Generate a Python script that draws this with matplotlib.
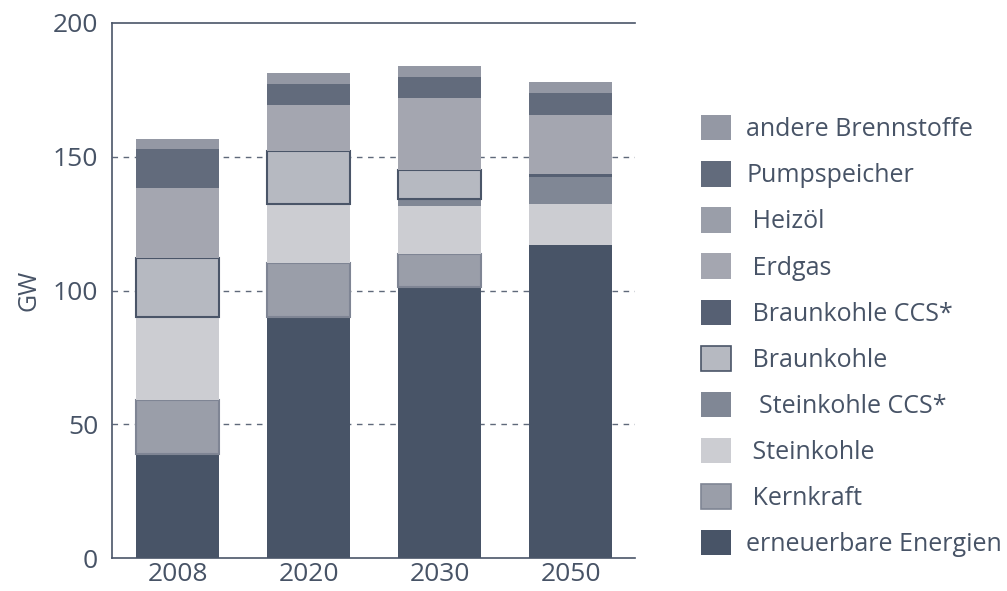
import matplotlib.pyplot as plt
import numpy as np

plt.rcParams['font.family'] = ['Open Sans', 'DejaVu Sans']

# Data (GW)
years = ["2008", "2020", "2030", "2050"]
erneuerbare = [39, 90, 101.4, 117]
kernkraft = [20, 20.2, 12.2, 0]
steinkohle = [31, 22, 18, 15.3]
steinkohle_ccs = [0, 0, 2.6, 10.2]
braunkohle = [22, 20, 10.7, 0]
braunkohle_ccs = [0, 0, 0, 1]
erdgas = [26.5, 17, 27, 22.1]
heizoel = [0, 0, 0, 0]
pumpspeicher = [14.5, 8, 7.8, 8.4]
andere = [3.7, 4, 4.1, 4]

series = [
    ("erneuerbare Energien", erneuerbare, "#485467", None),
    (" Kernkraft", kernkraft, "#9a9ea9", "#7f8594"),
    (" Steinkohle", steinkohle, "#cccdd2", None),
    ("  Steinkohle CCS*", steinkohle_ccs, "#808795", None),
    (" Braunkohle", braunkohle, "#b6b9c1", "#4a5568"),
    (" Braunkohle CCS*", braunkohle_ccs, "#566073", None),
    (" Erdgas", erdgas, "#a4a6b0", None),
    (" Heizöl", heizoel, "#9a9ea9", None),
    ("Pumpspeicher", pumpspeicher, "#626b7c", None),
    ("andere Brennstoffe", andere, "#9498a4", None),
]

text_col = "#475366"
fig = plt.figure(figsize=(10.07, 5.91), dpi=100)
ax = fig.add_axes([0.1112, 0.0558, 0.5194, 0.9053])

x = np.arange(len(years))
width = 0.634
bottom = np.zeros(len(years))
handles = []
for label, vals, color, edge in series:
    vals = np.array(vals, dtype=float)
    mask = vals > 0
    if mask.any():
        ax.bar(x[mask], vals[mask], width, bottom=bottom[mask], color=color,
               edgecolor=edge if edge else color,
               linewidth=1.5 if edge else 0, zorder=3)
    handles.append(plt.Rectangle((0, 0), 1, 1, facecolor=color,
                                 edgecolor=edge if edge else color,
                                 linewidth=1.2 if edge else 0))
    bottom += vals

ax.set_xlim(-0.5, 3.49)
ax.set_ylim(0, 200)
ax.set_yticks([0, 50, 100, 150, 200])
ax.set_xticks(x)
ax.set_xticklabels(years)
ax.tick_params(length=0, labelsize=19, colors=text_col)
ax.tick_params(axis="x", pad=3)
ax.tick_params(axis="y", pad=10)
ax.set_ylabel("GW", fontsize=18, color=text_col, labelpad=8)

for y in [50, 100, 150]:
    ax.axhline(y, color="#5f697a", linestyle=(0, (4, 4)), linewidth=1, zorder=1)

for side in ["left", "bottom", "top"]:
    ax.spines[side].set_color("#4a5568")
    ax.spines[side].set_linewidth(1.2)
ax.spines["right"].set_visible(False)

labels = [s[0] for s in series]
fig.legend(handles[::-1], labels[::-1], loc="upper left",
           bbox_to_anchor=(0.686, 0.822), frameon=False, fontsize=18,
           labelcolor=text_col, handlelength=1.22, handleheight=1.18,
           handletextpad=0.6, labelspacing=0.76, borderaxespad=0)

fig.savefig("out.png", dpi=100)
